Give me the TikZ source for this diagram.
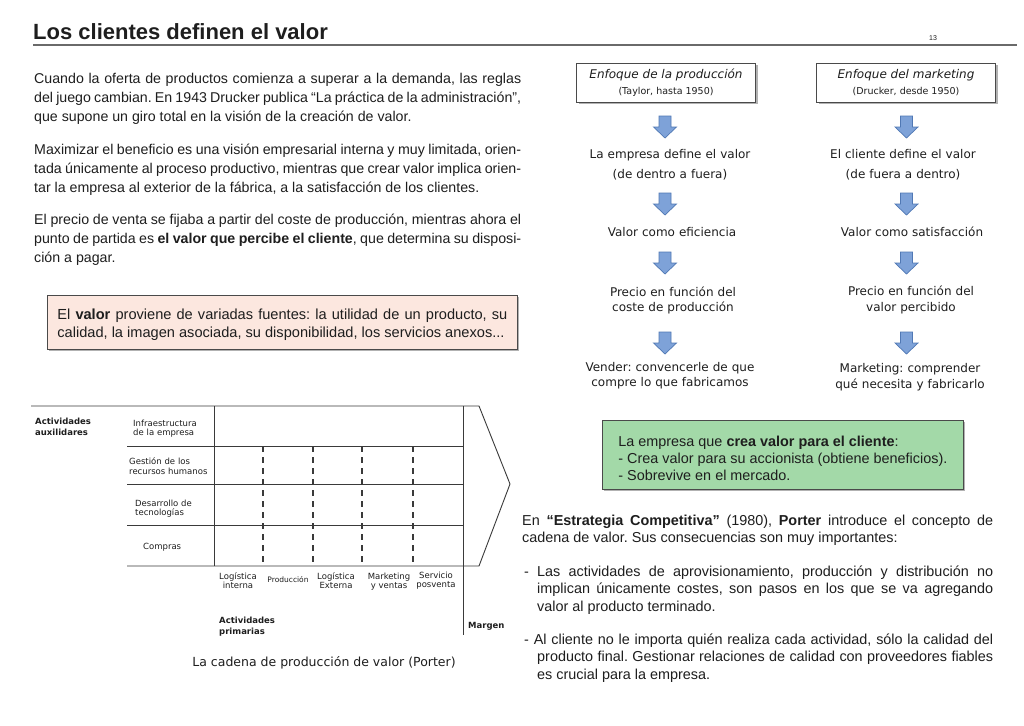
\documentclass[tikz,border=0pt]{standalone}
\usepackage{fontspec}
\setmainfont{Liberation Sans}
\newfontfamily\verdfont{DejaVu Sans}
\usepackage{tikz}
\usetikzlibrary{positioning,shadows}
\frenchspacing
\definecolor{ink}{HTML}{1E1E1E}
\definecolor{rulegray}{HTML}{6A6A6A}
\definecolor{boxedge}{HTML}{4A4A4A}
\definecolor{blush}{HTML}{FCE7DF}
\definecolor{leaf}{HTML}{A3D9A8}
\definecolor{arrowfill}{HTML}{7EA2D8}
\definecolor{arrowedge}{HTML}{5078B4}
\definecolor{chaingray}{HTML}{3A3A3A}
\tikzset{
  slidetitle/.style={anchor=base west, inner sep=0pt, font=\fontsize{22}{26}\selectfont\bfseries, text=ink},
  bodytext/.style={anchor=base west, inner sep=0pt, align=justify, text width=487pt, font=\fontsize{14.2}{19}\selectfont, text=ink},
  porttext/.style={anchor=base west, inner sep=0pt, align=justify, text width=471pt, font=\fontsize{14.4}{17.5}\selectfont, text=ink},
  notebox/.style={draw=boxedge, line width=0.8pt, drop shadow={shadow xshift=2pt, shadow yshift=-2pt, opacity=0.3, fill=black}},
  headbox/.style={notebox, fill=white, inner sep=0pt, minimum width=179pt, minimum height=39pt, align=center, font=\verdfont\fontsize{12}{16}\selectfont, text=ink},
  flowtext/.style={anchor=base, inner sep=0pt, text width=190pt, align=center, font=\verdfont\fontsize{12}{15.7}\selectfont, text=ink},
  chainlabel/.style={anchor=base west, inner sep=0pt, text width=90pt, align=left, font=\verdfont\fontsize{8.5}{9.5}\selectfont, text=ink},
  chainbold/.style={chainlabel, font=\verdfont\bfseries\fontsize{8.5}{11}\selectfont},
  chainstep/.style={anchor=base, inner sep=0pt, text width=54pt, align=center, font=\verdfont\fontsize{8.5}{9}\selectfont, text=ink},
  chainline/.style={draw=chaingray, line width=0.9pt},
  chaindash/.style={draw=chaingray, line width=1.6pt, dash pattern=on 6pt off 5pt},
  downarrow/.pic={
    \draw[fill=arrowfill, draw=arrowedge, line width=0.7pt, line join=miter]
      (-6,0) -- (6,0) -- (6,11) -- (11.5,11) -- (0,22) -- (-11.5,11) -- (-6,11) -- cycle;
  }
}

\begin{document}
\begin{tikzpicture}[x=1pt, y=-1pt]
  \fill[white] (0,0) rectangle (1024,725);
  \useasboundingbox (0,0) rectangle (1024,725);

  % cabecera
  \node[slidetitle] (titulo) at (33,40) {Los clientes definen el valor};
  \node[anchor=base, inner sep=0pt, font=\fontsize{7}{8}\selectfont, text=ink] (pagina) at (933,41) {13};
  \draw[draw=rulegray, line width=1.6pt] (33,45) -- (1017,45);

  % texto de la izquierda
  \node[bodytext] (oferta) at (34,83) {Cuando la oferta de productos comienza a superar a la demanda, las reglas\linebreak del juego cambian. En 1943 Drucker publica “La práctica de la administración”,\linebreak que supone un giro total en la visión de la creación de valor.};
  \node[bodytext] (beneficio) at (34,154) {Maximizar el beneficio es una visión empresarial interna y muy limitada, orien-\linebreak tada únicamente al proceso productivo, mientras que crear valor implica orien-\linebreak tar la empresa al exterior de la fábrica, a la satisfacción de los clientes.};
  \node[bodytext] (precio) at (34,224) {El precio de venta se fijaba a partir del coste de producción, mientras ahora el\linebreak punto de partida es \textbf{el valor que percibe el cliente}, que determina su disposi-\linebreak ción a pagar.};

  \node[notebox, fill=blush, anchor=north west, inner xsep=10pt, inner ysep=0pt, text width=450pt, align=justify, font=\fontsize{14.6}{18}\selectfont, text=ink] (fuentes) at (47,295) {\rule{0pt}{24pt}El \textbf{valor} proviene de variadas fuentes: la utilidad de un producto, su\linebreak calidad, la imagen asociada, su disponibilidad, los servicios anexos...\rule[-12pt]{0pt}{0pt}};

  % cadena de valor
  \draw[chainline] (31,406) -- (479,406) -- (510,484) -- (479,566) -- (127,566);
  \draw[chainline] (214,406) -- (214,566);
  \draw[chainline] (463,406) -- (463,635);
  \foreach \y in {446,484,525}
    \draw[chainline] (127,\y) -- (463,\y);
  \foreach \x in {263,313,362,413}
    \draw[chaindash] (\x,446) -- (\x,566);

  \node[chainbold] (auxiliares) at (35,424) {Actividades\\auxilidares};
  \node[chainlabel] (infra) at (133,426) {Infraestructura\\de la empresa};
  \node[chainlabel] (rrhh) at (129,464.5) {Gestión de los\\recursos humanos};
  \node[chainlabel] (tecno) at (135,506) {Desarrollo de\\tecnologías};
  \node[chainlabel] (compras) at (143,549) {Compras};

  \node[chainstep] (loginterna) at (238,579) {Logística\\interna};
  \node[chainstep, font=\verdfont\fontsize{7.5}{9}\selectfont] (produccion) at (288,582.5) {Producción};
  \node[chainstep] (logexterna) at (336,579) {Logística\\Externa};
  \node[chainstep] (ventas) at (389,579) {Marketing\\y ventas};
  \node[chainstep] (posventa) at (436,578) {Servicio\\posventa};

  \node[chainbold] (primarias) at (219,623.5) {Actividades\\primarias};
  \node[chainbold] (margen) at (468,628.5) {Margen};
  \node[anchor=base, inner sep=0pt, font=\verdfont\fontsize{12.5}{15}\selectfont, text=ink] (pie) at (324,666) {La cadena de producción de valor (Porter)};

  % dos enfoques
  \node[headbox] (enfprod) at (666,82.5) {{\itshape Enfoque de la producción}\\{\fontsize{9.5}{11}\selectfont (Taylor, hasta 1950)}};
  \node[headbox] (enfmkt) at (906,82.5) {{\itshape Enfoque del marketing}\\{\fontsize{9.5}{11}\selectfont (Drucker, desde 1950)}};

  \node[flowtext] (empresa) at (670,158) {La empresa define el valor\\[5pt](de dentro a fuera)};
  \node[flowtext] (eficiencia) at (672,236) {Valor como eficiencia};
  \node[flowtext] (coste) at (673,296) {Precio en función del\\coste de producción};
  \node[flowtext] (vender) at (670,371) {Vender: convencerle de que\\compre lo que fabricamos};

  \node[flowtext] (cliente) at (903,158) {El cliente define el valor\\[5pt](de fuera a dentro)};
  \node[flowtext] (satisfaccion) at (912,236) {Valor como satisfacción};
  \node[flowtext] (percibido) at (911,295.5) {Precio en función del\\valor percibido};
  \node[flowtext] (comprender) at (910,372.5) {Marketing: comprender\\qué necesita y fabricarlo};

  \foreach \y [count=\i] in {116,193,252,332} {
    \pic (flechaP\i) at (665,\y) {downarrow};
    \pic (flechaM\i) at (906.5,\y) {downarrow};
  }

  \node[notebox, fill=leaf, anchor=north west, inner xsep=0pt, inner ysep=0pt, minimum width=361pt, align=left, font=\fontsize{14.4}{17}\selectfont, text=ink] (creavalor) at (602,420) {\rule{0pt}{26pt}La empresa que \textbf{crea valor para el cliente}:\\- Crea valor para su accionista (obtiene beneficios).\\- Sobrevive en el mercado.\rule[-9pt]{0pt}{0pt}};

  % Porter
  \node[porttext] (porter) at (522,525) {En \textbf{“Estrategia Competitiva”} (1980), \textbf{Porter} introduce el concepto de\linebreak cadena de valor. Sus consecuencias son muy importantes:};
  \node[porttext, text width=456pt] (costes) at (537,576) {\hspace*{-13pt}- Las actividades de aprovisionamiento, producción y distribución no\linebreak implican únicamente costes, son pasos en los que se va agregando\linebreak valor al producto terminado.};
  \node[porttext, text width=456pt] (calidad) at (537,644) {\hspace*{-13pt}- Al cliente no le importa quién realiza cada actividad, sólo la calidad del\linebreak producto final. Gestionar relaciones de calidad con proveedores fiables\linebreak es crucial para la empresa.};
\end{tikzpicture}
\end{document}
